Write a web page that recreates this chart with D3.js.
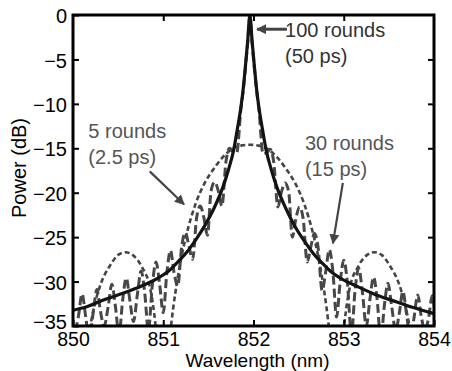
<!DOCTYPE html>
<html>
<head>
<meta charset="utf-8">
<script src="https://cdn.jsdelivr.net/npm/d3@7"></script>
<style>
  body { margin: 0; background: #fff; }
  svg { display: block; font-family: "Liberation Sans", Arial, sans-serif; }
</style>
</head>
<body>
<div id="chart"></div>
<script>
// axis ticks
const wavelengthTicks = [850, 851, 852, 853, 854];
const powerTicks = [0, -5, -10, -15, -20, -25, -30, -35];

// 100 rounds (50 ps) - solid
const rounds100 = [
  [849.92, -33.6], [849.96, -33.4], [850.16, -32.8], [850.36, -32.0], [850.56, -31.3],
  [850.76, -30.5], [850.96, -29.5], [851.06, -28.8], [851.16, -27.8], [851.26, -26.7],
  [851.36, -25.3], [851.46, -23.7], [851.56, -21.8], [851.66, -19.4], [851.72, -17.5],
  [851.78, -15.2], [851.82, -12.9], [851.86, -10.4], [851.885, -8.4], [851.91, -5.8],
  [851.935, -3.0], [851.96, 0],
  [851.985, -3.0], [852.01, -5.8], [852.035, -8.4], [852.06, -10.4], [852.10, -12.9],
  [852.14, -15.2], [852.20, -17.5], [852.26, -19.4], [852.36, -21.8], [852.46, -23.8],
  [852.56, -25.4], [852.66, -26.8], [852.76, -27.9], [852.86, -28.9], [852.96, -29.6],
  [853.16, -30.6], [853.36, -31.5], [853.56, -32.2], [853.76, -32.9], [853.96, -33.5],
  [854.04, -33.7]
];

// 30 rounds (15 ps) - long dashes
const rounds30 = [
  [849.86, -36.5], [849.90, -34.2], [849.94, -31.7], [849.98, -34.2], [850.02, -35.5],
  [850.06, -33.9], [850.10, -31.4], [850.14, -33.9], [850.18, -36.5],
  [850.225, -33.4], [850.265, -30.9], [850.305, -33.4], [850.345, -35.0],
  [850.39, -32.8], [850.43, -30.3], [850.47, -32.8], [850.51, -36.0],
  [850.55, -32.1], [850.59, -29.6], [850.63, -32.1], [850.67, -34.5],
  [850.715, -31.3], [850.755, -28.8], [850.795, -31.3], [850.835, -35.5],
  [850.88, -30.3], [850.92, -27.8], [850.96, -30.3], [851.00, -33.5],
  [851.04, -29.0], [851.08, -26.5], [851.12, -29.0], [851.16, -30.5],
  [851.205, -26.0], [851.245, -24.5], [851.285, -26.0], [851.325, -27.5],
  [851.37, -22.8], [851.41, -21.5], [851.45, -22.8], [851.49, -24.8],
  [851.53, -19.8], [851.57, -18.8], [851.61, -19.8], [851.65, -21.5],
  [851.695, -16.5], [851.735, -15.0], [851.775, -15.4], [851.815, -15.5],
  [851.86, -10.6], [851.885, -8.6], [851.91, -6.0], [851.935, -3.2], [851.96, -0.3],
  [851.985, -3.2], [852.01, -6.0], [852.035, -8.6], [852.06, -10.6],
  [852.105, -15.6], [852.145, -15.5], [852.185, -15.1], [852.225, -16.6],
  [852.27, -21.6], [852.31, -19.9], [852.35, -18.9], [852.39, -19.9],
  [852.43, -25.0], [852.47, -22.9], [852.51, -21.6], [852.55, -22.9],
  [852.595, -27.8], [852.635, -26.1], [852.675, -24.6], [852.715, -26.1],
  [852.76, -31.0], [852.80, -28.9], [852.84, -26.4], [852.88, -28.9],
  [852.92, -34.0], [852.96, -30.1], [853.00, -27.6], [853.04, -30.1],
  [853.085, -36.0], [853.125, -31.0], [853.165, -28.5], [853.205, -31.0],
  [853.25, -35.0], [853.29, -32.0], [853.33, -29.5], [853.37, -32.0],
  [853.41, -36.5], [853.45, -32.7], [853.49, -30.2], [853.53, -32.7],
  [853.575, -35.5], [853.615, -33.6], [853.655, -31.1], [853.695, -33.6],
  [853.74, -36.5], [853.78, -34.0], [853.82, -31.5], [853.86, -34.0],
  [853.90, -35.5], [853.94, -34.1], [853.98, -31.6], [854.02, -34.1], [854.06, -36.5]
];

// 5 rounds (2.5 ps) - short dashes
const rounds5 = [
  [850.12, -38], [850.19, -35], [850.24, -32.6], [850.31, -30.2], [850.41, -28.2],
  [850.50, -27.0], [850.58, -26.7], [850.66, -27.0], [850.76, -28.3], [850.86, -31],
  [850.91, -34.5], [850.95, -39], [851.00, -45], [851.04, -39], [851.08, -35.5],
  [851.11, -33], [851.16, -29.6], [851.21, -26.8], [851.26, -24.6], [851.36, -21.2],
  [851.46, -18.9], [851.56, -17.3], [851.66, -16.0], [851.76, -15.1], [851.86, -14.7],
  [851.96, -14.6], [852.06, -14.7], [852.16, -15.1], [852.26, -16.0], [852.36, -17.3],
  [852.46, -18.9], [852.56, -21.2], [852.66, -24.6], [852.71, -26.8], [852.76, -29.6],
  [852.81, -33], [852.84, -35.5], [852.88, -39], [852.92, -45], [852.97, -39],
  [853.01, -34.5], [853.06, -31], [853.16, -28.3], [853.26, -27.0], [853.34, -26.7],
  [853.42, -27.0], [853.51, -28.2], [853.61, -30.2], [853.68, -32.6], [853.73, -35],
  [853.80, -38]
];

// annotations: text lines, text anchor (nm, dB), arrow from/to (nm, dB)
const notes = [
  { lines: ['100 rounds', '(50 ps)'], at: [852.35, -2.5], from: [852.37, -1.6], to: [852.04, -1.6], color: '#333' },
  { lines: ['5 rounds', '(2.5 ps)'], at: [850.17, -13.85], from: [850.85, -17.6], to: [851.23, -21.3], color: '#555' },
  { lines: ['30 rounds', '(15 ps)'], at: [852.57, -15.2], from: [852.99, -18.9], to: [852.88, -25.7], color: '#555' }
];

const margin = { top: 15, right: 18, bottom: 45, left: 73 };
const width = 452 - margin.left - margin.right;
const height = 371 - margin.top - margin.bottom;

const svg = d3.select('#chart').append('svg')
  .attr('width', 452)
  .attr('height', 371);

const g = svg.append('g')
  .attr('transform', `translate(${margin.left},${margin.top})`);

const x = d3.scaleLinear().domain([850, 854]).range([0, width]);
const y = d3.scaleLinear().domain([-35, 0]).range([height, 0]);

svg.append('defs').append('clipPath').attr('id', 'plot')
  .append('rect').attr('width', width).attr('height', height);

const line = d3.line()
  .x(d => x(d[0]))
  .y(d => y(d[1]))
  .curve(d3.curveMonotoneX);

const curves = g.append('g').attr('clip-path', 'url(#plot)');

curves.append('path').datum(rounds5)
  .attr('d', line).attr('fill', 'none')
  .attr('stroke', '#454545').attr('stroke-width', 2.6)
  .attr('stroke-dasharray', '5,3');

curves.append('path').datum(rounds30)
  .attr('d', line).attr('fill', 'none')
  .attr('stroke', '#474747').attr('stroke-width', 3)
  .attr('stroke-dasharray', '9,4');

curves.append('path').datum(rounds100)
  .attr('d', line).attr('fill', 'none')
  .attr('stroke', '#141414').attr('stroke-width', 3.2);

// Axes, ticks inward on all four sides
const fmt = d => d < 0 ? '\u2212' + Math.abs(d) : String(d);
const tickStyle = sel => {
  sel.select('.domain').remove();
  sel.selectAll('line').attr('stroke', '#000').attr('stroke-width', 2);
};

g.append('g').attr('transform', `translate(0,${height})`)
  .call(d3.axisBottom(x).tickValues(wavelengthTicks).tickSize(-6).tickPadding(6).tickFormat(d3.format('d')))
  .call(tickStyle)
  .selectAll('text').attr('font-size', '19.5px').attr('fill', '#000').attr('dy', '0.71em');

g.append('g')
  .call(d3.axisTop(x).tickValues(wavelengthTicks.slice(1, -1)).tickSize(-6).tickFormat(''))
  .call(tickStyle);

g.append('g')
  .call(d3.axisLeft(y).tickValues(powerTicks).tickSize(-6).tickPadding(6).tickFormat(fmt))
  .call(tickStyle)
  .selectAll('text').attr('font-size', '20px').attr('fill', '#000')
  .attr('dy', d => d === -35 ? '0.12em' : '0.38em');

g.append('g').attr('transform', `translate(${width},0)`)
  .call(d3.axisRight(y).tickValues(powerTicks.slice(1, -1)).tickSize(-6).tickFormat(''))
  .call(tickStyle);

// Frame
g.append('rect')
  .attr('width', width).attr('height', height)
  .attr('fill', 'none').attr('stroke', '#000').attr('stroke-width', 3);

// Axis titles
svg.append('text')
  .attr('x', 257.5).attr('y', 367)
  .attr('text-anchor', 'middle').attr('font-size', '19px')
  .text('Wavelength (nm)');

svg.append('text')
  .attr('transform', 'translate(26,168) rotate(-90)')
  .attr('text-anchor', 'middle').attr('font-size', '20px')
  .text('Power (dB)');

// Annotations
svg.append('defs').selectAll('marker')
  .data(notes).enter().append('marker')
  .attr('id', (d, i) => 'head' + i)
  .attr('viewBox', '0 -5 10 10')
  .attr('refX', 9).attr('refY', 0)
  .attr('markerUnits', 'userSpaceOnUse')
  .attr('markerWidth', 10).attr('markerHeight', 10)
  .attr('orient', 'auto')
  .append('path').attr('d', 'M0,-5L10,0L0,5Z').attr('fill', '#444');

const notesG = g.append('g');

notesG.selectAll('line.arrow')
  .data(notes).enter().append('line')
  .attr('class', 'arrow')
  .attr('x1', d => x(d.from[0])).attr('y1', d => y(d.from[1]))
  .attr('x2', d => x(d.to[0])).attr('y2', d => y(d.to[1]))
  .attr('stroke', '#444').attr('stroke-width', (d, i) => i === 0 ? 3 : 2.2)
  .attr('marker-end', (d, i) => `url(#head${i})`);

notesG.selectAll('text.note')
  .data(notes).enter().append('text')
  .attr('class', 'note')
  .attr('x', d => x(d.at[0])).attr('y', d => y(d.at[1]))
  .attr('font-size', '20px')
  .attr('fill', d => d.color)
  .each(function(d) {
    d3.select(this).selectAll('tspan')
      .data(d.lines).enter().append('tspan')
      .attr('x', x(d.at[0]))
      .attr('dy', (t, i) => i === 0 ? 0 : '1.3em')
      .text(t => t);
  });
</script>
</body>
</html>
